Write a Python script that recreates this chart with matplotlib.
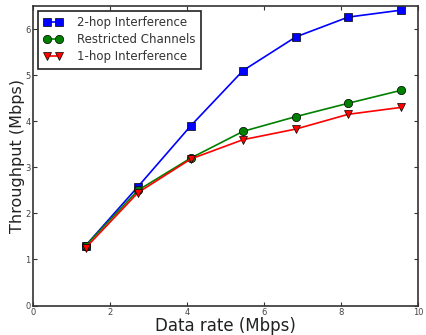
import matplotlib
matplotlib.use("Agg")
import matplotlib.pyplot as plt

x = [1.36, 2.72, 4.09, 5.45, 6.82, 8.18, 9.55]
two_hop = [1.3, 2.58, 3.9, 5.1, 5.83, 6.26, 6.41]
restricted = [1.3, 2.5, 3.2, 3.78, 4.1, 4.39, 4.67]
one_hop = [1.25, 2.45, 3.18, 3.6, 3.83, 4.15, 4.3]

fig = plt.figure(figsize=(4.26, 3.35), dpi=100)
ax = fig.add_axes([0.078, 0.088, 0.904, 0.894])
kw = dict(markersize=6, markeredgecolor='black', markeredgewidth=0.5, lw=1.2)
ax.plot(x, two_hop, color='blue', marker='s', label='2-hop Interference', **kw)
ax.plot(x, restricted, color='green', marker='o', label='Restricted Channels', **kw)
ax.plot(x, one_hop, color='red', marker='v', label='1-hop Interference', **kw)
ax.set_xlim(0, 10)
ax.set_ylim(0, 6.5)
ax.set_xticks([0, 2, 4, 6, 8, 10])
ax.set_yticks([0, 1, 2, 3, 4, 5, 6])
ax.tick_params(direction='in', labelsize=6, length=3, top=True, right=True, pad=2,
               labelcolor='#444444', color='#333333')
for s in ax.spines.values():
    s.set_linewidth(1.2)
    s.set_color('#333333')
ax.set_xlabel('Data rate (Mbps)', fontsize=12, labelpad=0, color='#222222')
ax.set_ylabel('Throughput (Mbps)', fontsize=11.5, labelpad=0, color='#222222')
leg = ax.legend(loc='upper left', fontsize=8.5, fancybox=False, framealpha=1, edgecolor='#222222',
                handlelength=1.6, numpoints=2, borderaxespad=0.4, labelspacing=0.35,
                handletextpad=1.3, borderpad=0.45)
leg.get_frame().set_linewidth(1.2)
for t in leg.get_texts():
    t.set_color('#333333')
fig.savefig('out.png', dpi=100)
